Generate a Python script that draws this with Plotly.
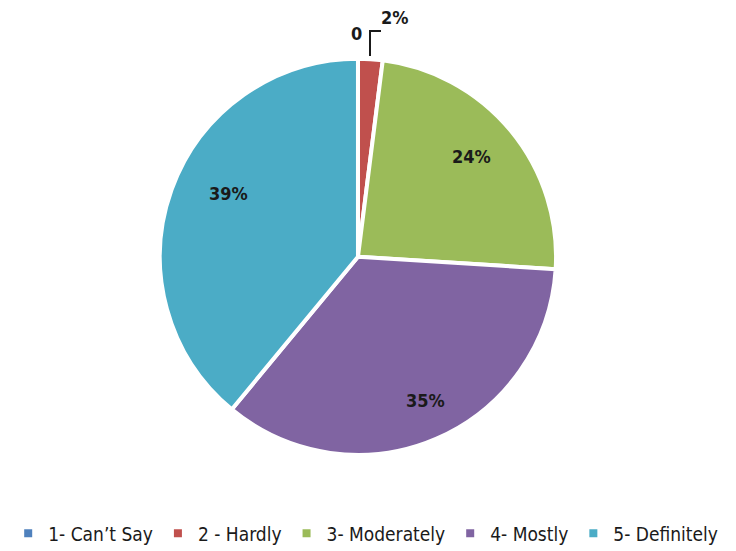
import plotly.graph_objects as go

categories = ["1- Can\u2019t Say", "2 - Hardly", "3- Moderately", "4- Mostly", "5- Definitely"]
values = [0, 2, 24, 35, 39]
colors = ["#4F81BD", "#C0504D", "#9BBB59", "#8064A2", "#4BACC6"]

FONT = "DejaVu Sans Condensed, Liberation Sans, sans-serif"

fig = go.Figure(go.Pie(
    labels=categories,
    values=values,
    textinfo="none",
    marker=dict(colors=colors, line=dict(color="white", width=4)),
    sort=False,
    direction="clockwise",
    rotation=0,
    domain=dict(x=[0.2055, 0.7455], y=[0.189, 0.908]),
    showlegend=True,
))

# label positions (page pixels, before the 8px page offset)
label_specs = [
    ("<b>0</b>", 348, 25),
    ("<b>2%</b>", 387, 10),
    ("<b>24%</b>", 463, 148),
    ("<b>35%</b>", 417, 392),
    ("<b>39%</b>", 220, 185),
]
for txt, px, py in label_specs:
    fig.add_annotation(x=px/736, y=1 - py/551, xref="paper", yref="paper",
                       xanchor="center", yanchor="middle",
                       text=txt, showarrow=False,
                       font=dict(family=FONT, size=18, color="#1a1a1a"))
fig.add_shape(type="path", xref="paper", yref="paper",
              path=f"M {362/736} {1-48/551} L {362/736} {1-23/551} L {373/736} {1-23/551}",
              line=dict(color="#1a1a1a", width=2))

fig.update_layout(
    width=736, height=551,
    margin=dict(l=0, r=0, t=0, b=0, autoexpand=False),
    paper_bgcolor="white",
    plot_bgcolor="white",
    legend=dict(orientation="h", x=0.486, xanchor="center", y=0.012, yanchor="bottom",
                font=dict(family=FONT, size=19, color="#1a1a1a"),
                itemwidth=30, tracegroupgap=0),
)

fig.write_html("out.html")
